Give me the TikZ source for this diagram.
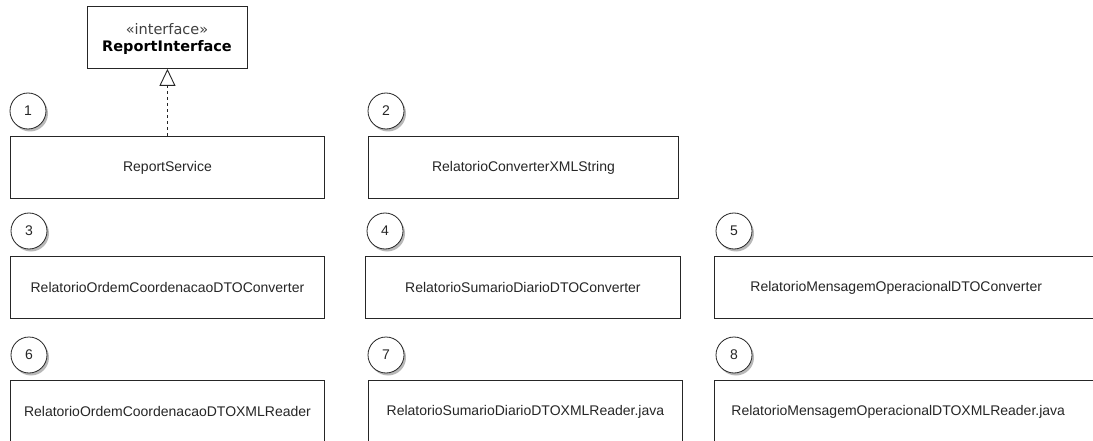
\documentclass[tikz,border=0pt]{standalone}
\usepackage{fontspec}
\setmainfont{Liberation Sans}
\newfontfamily\umlfont{DejaVu Sans}
\usetikzlibrary{arrows.meta,shadows}

\tikzset{
  px/.style={x=1pt,y=-1pt},
  cls/.style={draw=black!85, line width=0.9pt, fill=white, rectangle,
    anchor=north west, minimum height=62pt, inner sep=0pt,
    font=\fontsize{14}{16}\selectfont, text=black!85},
  num/.style={draw=black!85, line width=0.8pt, fill=white, circle,
    minimum size=36pt, inner sep=0pt,
    font=\fontsize{14}{16}\selectfont, text=black!85,
    drop shadow={shadow xshift=2pt, shadow yshift=-2.5pt, opacity=0.5, fill=black!55}},
  realize/.style={draw=black!85, line width=0.9pt, dash pattern=on 3pt off 3pt,
    -{Triangle[open, length=17pt, width=16pt, line width=0.9pt]}}
}

\begin{document}
\begin{tikzpicture}[px]
  \useasboundingbox (0,0) rectangle (1093,441);
  \clip (0,0) rectangle (1093,441);
  \fill[white] (0,0) rectangle (1093,441);

  % interface
  \node[cls, minimum width=160pt] (iface) at (87,6) {};
  \node[align=center, font=\umlfont\fontsize{14.5}{17}\selectfont, inner sep=0pt]
    (ifacetxt) at (167,39.5) {\textcolor{black!75}{«interface»}\\\textbf{ReportInterface}};

  % row 1
  \node[cls, minimum width=314pt] (b1) at (10,136) {ReportService};
  \node[cls, minimum width=310pt] (b2) at (368,136) {RelatorioConverterXMLString};

  % row 2
  \node[cls, minimum width=314pt] (b3) at (10,256) {RelatorioOrdemCoordenacaoDTOConverter};
  \node[cls, minimum width=315pt] (b4) at (365,256) {RelatorioSumarioDiarioDTOConverter};
  \node[cls, text width=360pt, align=left, inner xsep=36pt] (b5) at (714,256)
    {RelatorioMensagemOperacionalDTOConverter};

  % row 3
  \node[cls, minimum width=314pt] (b6) at (10,380) {RelatorioOrdemCoordenacaoDTOXMLReader};
  \node[cls, minimum width=314pt] (b7) at (368,380) {RelatorioSumarioDiarioDTOXMLReader.java};
  \node[cls, text width=360pt, align=left, inner xsep=17pt] (b8) at (714,380)
    {RelatorioMensagemOperacionalDTOXMLReader.java};

  % numbered markers
  \node[num] (n1) at (28,111) {1};
  \node[num] (n2) at (386,111) {2};
  \node[num] (n3) at (29,231) {3};
  \node[num] (n4) at (385,231) {4};
  \node[num] (n5) at (734,231) {5};
  \node[num] (n6) at (29,355) {6};
  \node[num] (n7) at (386,355) {7};
  \node[num] (n8) at (734,355) {8};

  % realization
  \draw[realize] (b1.north) -- (iface.south);
\end{tikzpicture}
\end{document}
